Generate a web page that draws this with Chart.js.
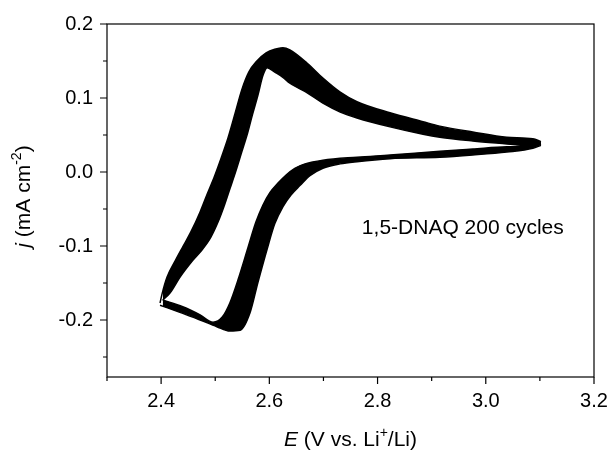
<!DOCTYPE html>
<html>
<head>
<meta charset="utf-8">
<script src="https://cdn.jsdelivr.net/npm/chart.js@4.4.1/dist/chart.umd.min.js"></script>
<style>
html, body { margin: 0; padding: 0; background: #fff; }
#wrap { width: 614px; height: 450px; }
</style>
</head>
<body>
<div id="wrap"><canvas id="cv" width="614" height="450"></canvas></div>
<script>
// 200 cycles overlap into one black band: each sweep is kept as the two edges of that band
const anodicOuterE = [2.398, 2.402, 2.411, 2.426, 2.440, 2.455, 2.472, 2.485, 2.498, 2.511, 2.524, 2.537, 2.549, 2.562, 2.577, 2.594, 2.610, 2.625, 2.638, 2.670, 2.699, 2.731, 2.762, 2.823, 2.884, 2.915, 2.976, 3.039, 3.087, 3.102];
const anodicOuterJ = [-0.177, -0.164, -0.142, -0.120, -0.101, -0.081, -0.054, -0.030, -0.007, 0.019, 0.047, 0.080, 0.111, 0.135, 0.150, 0.161, 0.166, 0.168, 0.165, 0.147, 0.127, 0.108, 0.095, 0.080, 0.068, 0.062, 0.054, 0.047, 0.045, 0.041];

const anodicInnerE = [2.403, 2.416, 2.435, 2.459, 2.477, 2.492, 2.505, 2.516, 2.527, 2.538, 2.549, 2.560, 2.569, 2.579, 2.588, 2.596, 2.610, 2.625, 2.638, 2.670, 2.699, 2.731, 2.762, 2.823, 2.884, 2.915, 2.976, 3.039, 3.087, 3.102];
const anodicInnerJ = [-0.173, -0.164, -0.142, -0.119, -0.104, -0.088, -0.068, -0.047, -0.023, 0.001, 0.027, 0.053, 0.078, 0.104, 0.130, 0.141, 0.135, 0.128, 0.120, 0.107, 0.093, 0.081, 0.073, 0.061, 0.051, 0.047, 0.042, 0.038, 0.035, 0.038];

const cathodicOuterE = [2.398, 2.440, 2.472, 2.503, 2.527, 2.546, 2.564, 2.579, 2.596, 2.610, 2.625, 2.640, 2.657, 2.675, 2.699, 2.731, 2.762, 2.823, 2.915, 2.976, 3.039, 3.087, 3.102];
const cathodicOuterJ = [-0.180, -0.191, -0.200, -0.209, -0.215, -0.214, -0.191, -0.149, -0.104, -0.070, -0.047, -0.031, -0.018, -0.005, 0.005, 0.011, 0.014, 0.018, 0.020, 0.023, 0.027, 0.032, 0.036];

const cathodicInnerE = [2.403, 2.440, 2.472, 2.496, 2.513, 2.527, 2.542, 2.561, 2.575, 2.588, 2.601, 2.616, 2.631, 2.647, 2.666, 2.699, 2.762, 2.823, 2.915, 2.976, 3.039, 3.087, 3.102];
const cathodicInnerJ = [-0.173, -0.182, -0.193, -0.203, -0.196, -0.177, -0.146, -0.101, -0.068, -0.045, -0.028, -0.015, -0.004, 0.005, 0.011, 0.016, 0.020, 0.023, 0.028, 0.031, 0.034, 0.035, 0.038];

const xTicks = [2.3, 2.4, 2.5, 2.6, 2.7, 2.8, 2.9, 3.0, 3.1, 3.2];
const xLabeled = [2.4, 2.6, 2.8, 3.0, 3.2];
const yTicks = [-0.25, -0.2, -0.15, -0.1, -0.05, 0, 0.05, 0.1, 0.15, 0.2];
const yLabeled = [-0.2, -0.1, 0, 0.1, 0.2];

const note = "1,5-DNAQ 200 cycles";
const noteAt = { x: 2.771, y: -0.076 };

const FONT = "'Liberation Sans', Arial, sans-serif";

function pts(xs, ys) {
  return xs.map((x, i) => ({ x: x, y: ys[i] }));
}
const isLabeled = (list, v) => list.some(t => Math.abs(t - v) < 1e-6);

function edge(xs, ys, fill) {
  return {
    data: pts(xs, ys),
    borderColor: "#000",
    backgroundColor: "#000",
    borderWidth: 1.5,
    pointRadius: 0,
    cubicInterpolationMode: "monotone",
    fill: fill
  };
}

// draws text pieces one after another, some italic, some raised
function richText(ctx, parts, x, y, size) {
  const fontOf = p => (p.it ? "italic " : "") + (p.sup ? Math.round(size * 0.65) : size) + "px " + FONT;
  let w = 0;
  parts.forEach(p => { ctx.font = fontOf(p); w += ctx.measureText(p.t).width; });
  let cx = x - w / 2;
  ctx.textAlign = "left";
  ctx.textBaseline = "alphabetic";
  parts.forEach(p => {
    ctx.font = fontOf(p);
    ctx.fillText(p.t, cx, p.sup ? y - size * 0.42 : y);
    cx += ctx.measureText(p.t).width;
  });
}

const extras = {
  id: "extras",
  afterDraw(chart) {
    const { ctx, chartArea: a, scales: { x, y } } = chart;
    ctx.save();
    ctx.strokeStyle = "#000";
    ctx.lineWidth = 1.2;
    ctx.strokeRect(a.left, a.top, a.right - a.left, a.bottom - a.top);

    ctx.beginPath();
    xTicks.forEach(v => {
      const px = x.getPixelForValue(v);
      const len = isLabeled(xLabeled, v) ? 7 : 4;
      ctx.moveTo(px, a.bottom);
      ctx.lineTo(px, a.bottom + len);
    });
    yTicks.forEach(v => {
      const py = y.getPixelForValue(v);
      const len = isLabeled(yLabeled, v) ? 7 : 4;
      ctx.moveTo(a.left, py);
      ctx.lineTo(a.left - len, py);
    });
    ctx.stroke();

    ctx.fillStyle = "#000";
    richText(ctx, [{ t: "E", it: true }, { t: " (V vs. Li" }, { t: "+", sup: true }, { t: "/Li)" }],
      (a.left + a.right) / 2, 446, 21);

    ctx.save();
    ctx.translate(30, (a.top + a.bottom) / 2 - 4);
    ctx.rotate(-Math.PI / 2);
    richText(ctx, [{ t: "j", it: true }, { t: " (mA cm" }, { t: "-2", sup: true }, { t: ")" }], 0, 0, 21);
    ctx.restore();

    ctx.font = "21px " + FONT;
    ctx.textAlign = "left";
    ctx.textBaseline = "middle";
    ctx.fillText(note, x.getPixelForValue(noteAt.x), y.getPixelForValue(noteAt.y));
    ctx.restore();
  }
};

new Chart(document.getElementById("cv"), {
  type: "line",
  data: {
    datasets: [
      edge(anodicOuterE, anodicOuterJ, false),
      edge(anodicInnerE, anodicInnerJ, "-1"),
      edge(cathodicOuterE, cathodicOuterJ, false),
      edge(cathodicInnerE, cathodicInnerJ, "-1")
    ]
  },
  options: {
    responsive: false,
    animation: false,
    devicePixelRatio: 1,
    layout: { padding: { top: 24, right: 20, left: 0, bottom: 0 } },
    plugins: { legend: { display: false }, tooltip: { enabled: false } },
    scales: {
      x: {
        type: "linear",
        min: 2.3,
        max: 3.2,
        afterBuildTicks: s => { s.ticks = xTicks.map(v => ({ value: v })); },
        afterFit: s => { s.height = 73; },
        grid: { drawOnChartArea: false, tickLength: 7, color: "rgba(0,0,0,0)" },
        border: { display: false },
        ticks: {
          autoSkip: false,
          maxRotation: 0,
          padding: 5,
          color: "#000",
          font: { family: FONT, size: 20 },
          callback: v => isLabeled(xLabeled, v) ? v.toFixed(1) : ""
        }
      },
      y: {
        type: "linear",
        min: -0.277,
        max: 0.2,
        afterBuildTicks: s => { s.ticks = yTicks.map(v => ({ value: v })); },
        afterFit: s => { s.width = 107; },
        grid: { drawOnChartArea: false, tickLength: 7, color: "rgba(0,0,0,0)" },
        border: { display: false },
        ticks: {
          autoSkip: false,
          padding: 7,
          color: "#000",
          font: { family: FONT, size: 20 },
          callback: v => isLabeled(yLabeled, v) ? v.toFixed(1) : ""
        }
      }
    }
  },
  plugins: [extras]
});
</script>
</body>
</html>
